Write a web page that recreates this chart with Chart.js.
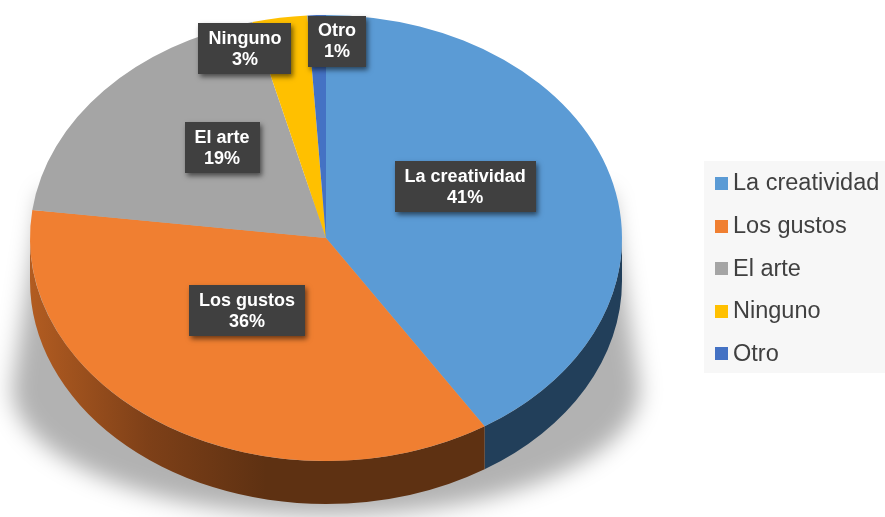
<!DOCTYPE html>
<html><head><meta charset="utf-8">
<script src="https://cdn.jsdelivr.net/npm/chart.js@4.4.0/dist/chart.umd.min.js"></script>
<style>html,body{margin:0;padding:0;background:#fff;} #wrap{width:885px;height:517px;position:relative;}</style>
</head><body><div id="wrap"><canvas id="c" width="885" height="517"></canvas></div>
<script>
const categories = ['La creatividad','Los gustos','El arte','Ninguno','Otro'];
const values = [41,36,19,3,1];
const percentLabels = ['41%','36%','19%','3%','1%'];
const topColors = ['#5B9BD5','#F07F31','#A5A5A5','#FFC000','#4472C4'];
const sideColors = ['#223F5A','#5E3112','#4F4F4F','#7A5C00','#20375E'];

const GEO = {cx:326, cy:238, rx:296, ry:223, depth:43};
const labelAnchor = [[0.47,-0.229],[-0.267,0.327],[-0.351,-0.404],[-0.274,-0.848],[0.037,-0.883]];
const FONT = '"Liberation Sans", Arial, sans-serif';

const pie3d = {
  id:'pie3d',
  beforeDatasetsDraw(chart){
    const ctx = chart.ctx, meta = chart.getDatasetMeta(0);
    const {cx,cy,rx,ry,depth} = GEO;
    // soft cast shadow
    ctx.save();
    ctx.filter = 'blur(11px)';
    ctx.fillStyle = 'rgba(0,0,0,0.30)';
    ctx.beginPath();
    ctx.moveTo(cx-rx+12, cy-45);
    ctx.lineTo(cx+rx-12, cy-45);
    ctx.lineTo(cx+rx+18, cy+150);
    ctx.ellipse(cx, cy+150, rx+18, 128, 0, 0, Math.PI, false);
    ctx.lineTo(cx-rx+12, cy-45);
    ctx.closePath(); ctx.fill();
    ctx.restore();
    // side walls
    meta.data.forEach((arc,i)=>{
      const a = Math.max(arc.startAngle,0), b = Math.min(arc.endAngle,Math.PI);
      if (b <= a) return;
      ctx.save();
      ctx.beginPath();
      ctx.ellipse(cx,cy,rx,ry,0,a,b,false);
      ctx.ellipse(cx,cy+depth,rx,ry,0,b,a,true);
      ctx.closePath();
      if (i === 1) {
        const g = ctx.createLinearGradient(cx-rx,0,cx-60,0);
        g.addColorStop(0,'#B25C21'); g.addColorStop(0.5,'#7E4018'); g.addColorStop(1,'#5E3112');
        ctx.fillStyle = g;
      } else ctx.fillStyle = sideColors[i];
      ctx.fill();
      ctx.restore();
    });
    const a0 = meta.data[0], R = a0.outerRadius;
    ctx.save();
    ctx.translate(cx,cy); ctx.scale(rx/R, ry/R); ctx.translate(-a0.x,-a0.y);
  },
  afterDatasetsDraw(chart){
    const ctx = chart.ctx;
    ctx.restore();
    const {cx,cy,rx,ry} = GEO;
    ctx.save();
    ctx.font = 'bold 18px ' + FONT;
    ctx.textAlign='center'; ctx.textBaseline='middle';
    categories.forEach((name,i)=>{
      const x = cx + labelAnchor[i][0]*rx, y = cy + labelAnchor[i][1]*ry;
      const w = Math.max(ctx.measureText(name).width, ctx.measureText(percentLabels[i]).width) + 20;
      const h = 51;
      ctx.save();
      ctx.shadowColor='rgba(0,0,0,0.55)'; ctx.shadowBlur=5; ctx.shadowOffsetX=2; ctx.shadowOffsetY=3;
      ctx.fillStyle='#404040';
      ctx.fillRect(Math.round(x-w/2), Math.round(y-h/2), Math.round(w), h);
      ctx.restore();
      ctx.fillStyle='#FFFFFF';
      ctx.fillText(name, x, y-10);
      ctx.fillText(percentLabels[i], x, y+11);
    });
    ctx.restore();
  },
  afterDraw(chart){
    const ctx = chart.ctx;
    ctx.save();
    ctx.fillStyle='#F7F7F7';
    ctx.fillRect(704,161,181,212);
    ctx.font = '23.5px ' + FONT;
    ctx.textAlign='left'; ctx.textBaseline='middle';
    categories.forEach((name,i)=>{
      const y = 183 + i*42.6;
      ctx.fillStyle = topColors[i];
      ctx.fillRect(715, Math.round(y-6), 13, 13);
      ctx.fillStyle = '#404040';
      ctx.fillText(name, 733, y+1);
    });
    ctx.restore();
  }
};

new Chart(document.getElementById('c'), {
  type:'pie',
  data:{ labels:categories, datasets:[{ data:values, backgroundColor:topColors, borderWidth:0, clip:false }] },
  options:{
    responsive:false, animation:false, events:[],
    layout:{padding:0},
    plugins:{ legend:{display:false}, tooltip:{enabled:false} }
  },
  plugins:[pie3d]
});
</script></body></html>
